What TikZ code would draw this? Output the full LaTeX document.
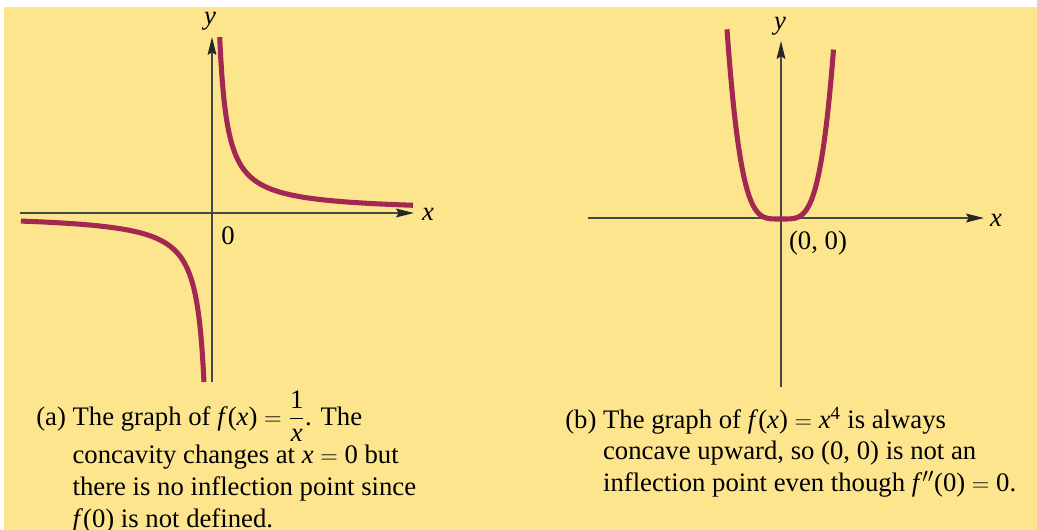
\documentclass[tikz,border=0pt]{standalone}
\usepackage{amsmath}
\usepackage{fontspec}
\setmainfont{Liberation Serif}
\usepackage{xcolor}
\usetikzlibrary{arrows.meta,positioning,calc}
\definecolor{pageyellow}{RGB}{253,229,142}
\definecolor{curvered}{RGB}{162,40,82}
\definecolor{axisgray}{RGB}{70,72,72}
\tikzstyle{axis}   =[draw=axisgray, line width=0.9pt,
                     -{Stealth[length=0.45cm, width=0.22cm, inset=0.07cm, color=black!85]}]
\tikzstyle{graph}  =[draw=curvered, line width=3.6pt, line cap=butt]
\tikzstyle{lbl}    =[inner sep=0pt, font=\fontsize{19}{22.5}\selectfont]
\tikzstyle{caption}=[inner sep=0pt, anchor=base west, align=left,
                     font=\fontsize{19}{22.5}\selectfont]

\begin{document}
\begin{tikzpicture}[x=0.025cm, y=-0.025cm]

  % ── page ────────────────────────────────────────────────────────────────────
  \useasboundingbox (0,0) rectangle (1037,530);
  \fill[white] (0,0) rectangle (1037,530);
  \fill[pageyellow] (4,7) rectangle (1037,530);

  % ── (a) f(x) = 1/x ─────────────────────────────────────────────────────────
  \coordinate (oA)  at (212,213);
  \coordinate (xlA) at (20,213);
  \coordinate (xrA) at (414,213);
  \coordinate (ybA) at (212,382);
  \coordinate (ytA) at (212,37);
  \draw[axis] (xlA) -- (xrA);
  \draw[axis] (ybA) -- (ytA);
  \node[lbl] (xlabA) at (428,214) {\textit{x}};
  \node[lbl] (ylabA) at (210,21)  {\textit{y}};
  \node[lbl] (zeroA) at (228,236) {0};

  \draw[graph, domain=-1.56:1.70, samples=120, smooth]
    plot ({212+36.74*exp(\x)},{212-36.74*exp(-\x)});
  \draw[graph, domain=-1.52:1.65, samples=120, smooth]
    plot ({212-36.74*exp(\x)},{214+36.74*exp(-\x)});

  % ── (b) f(x) = x^4 ─────────────────────────────────────────────────────────
  \coordinate (oB)  at (781,218);
  \coordinate (xlB) at (588,218);
  \coordinate (xrB) at (984,218);
  \coordinate (ybB) at (781,387);
  \coordinate (ytB) at (781,41);
  \draw[axis] (xlB) -- (xrB);
  \draw[axis] (ybB) -- (ytB);
  \node[lbl] (xlabB) at (996,220) {\textit{x}};
  \node[lbl] (ylabB) at (780,26)  {\textit{y}};
  \node[lbl] (origB) at (818,243) {(0, 0)};

  \draw[graph, domain=-54:52.5, samples=160, smooth]
    plot ({781+\x},{219-176*(\x/53)^4});

  % ── captions ───────────────────────────────────────────────────────────────
  \node[caption] (capA) at (36,425)
    {\begin{tabular}[t]{@{}l@{\ }l@{}}
       (a) & The graph of \textit{f}(\textit{x}) $=\dfrac{\text{1}}{\textit{x}}$. The\\
           & concavity changes at \textit{x} $=$ 0 but\\
           & there is no inflection point since\\
           & \textit{f}(0) is not defined.
     \end{tabular}};
  \node[caption] (capB) at (565,428)
    {\begin{tabular}[t]{@{}l@{\ }l@{}}
       (b) & The graph of \textit{f}(\textit{x}) $=$ \textit{x}\textsuperscript{4} is always\\
           & concave upward, so (0, 0) is not an\\
           & inflection point even though \textit{f}$''$(0) $=$ 0.
     \end{tabular}};

\end{tikzpicture}
\end{document}
